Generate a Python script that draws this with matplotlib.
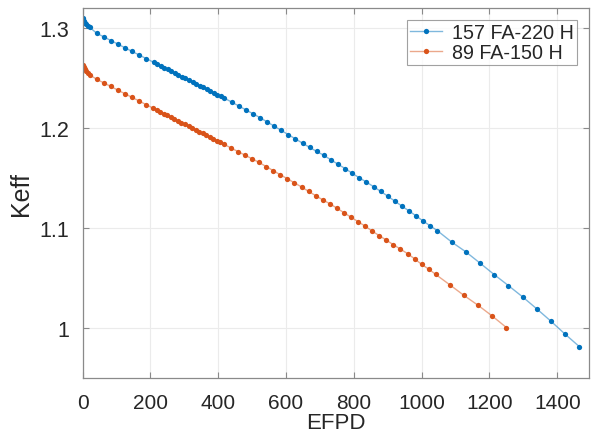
import matplotlib
matplotlib.use("Agg")
import matplotlib.pyplot as plt

plt.rcParams['font.family'] = ['Liberation Sans', 'DejaVu Sans']

# ---- data ----
series_labels = ["157 FA-220 H", "89 FA-150 H"]

efpd_157 = [0, 3, 6, 10, 15, 20.9, 41.9, 62.8, 83.7, 104.7, 125.6, 146.5, 167.4, 188.4, 209.3,
            219.8, 230.2, 240.7, 251.2, 261.6, 272.1, 282.6, 293.0, 303.5, 314.0, 324.4, 334.9,
            345.3, 355.8, 366.3, 376.7, 387.2, 397.7, 408.1, 418.6,
            439.5, 460.5, 481.4, 502.3, 523.3, 544.2, 565.1, 586.0, 607.0, 627.9, 648.8, 669.8,
            690.7, 711.6, 732.6, 753.5, 774.4, 795.3, 816.3, 837.2, 858.1, 879.1, 900.0, 920.9,
            941.9, 962.8, 983.7, 1004.7, 1025.6, 1046.5,
            1088.4, 1130.2, 1172.1, 1214.0, 1255.8, 1297.7, 1339.5, 1381.4, 1423.3, 1465.1]
keff_157 = [1.310, 1.307, 1.305, 1.304, 1.302,
            1.301, 1.295, 1.2914, 1.2877, 1.2841, 1.2804, 1.2768, 1.2732, 1.2696, 1.2660,
            1.2642, 1.2624, 1.2606, 1.2588, 1.2570, 1.2552, 1.2534, 1.2516, 1.2498, 1.2480,
            1.2462, 1.2444, 1.2426, 1.2408, 1.2390, 1.2372, 1.2354, 1.2336, 1.2318, 1.2300,
            1.2262, 1.2223, 1.2184, 1.2145, 1.2106, 1.2063, 1.2021, 1.1978, 1.1935, 1.1893,
            1.1850, 1.1808,
            1.1767, 1.1729, 1.1683, 1.1639, 1.1596, 1.1549, 1.1503, 1.1461, 1.1415, 1.1368,
            1.1320, 1.1270, 1.1220, 1.1172, 1.1122, 1.1070, 1.1022, 1.0974,
            1.0861, 1.0763, 1.0650, 1.0535, 1.0425, 1.0312, 1.0192, 1.0068, 0.9938, 0.9814]

efpd_89 = [0, 3, 6, 10, 15, 20.8, 41.7, 62.5, 83.3, 104.2, 125.0, 145.8, 166.7, 187.5, 208.3,
           218.8, 229.2, 239.6, 250.0, 260.4, 270.8, 281.3, 291.7, 302.1, 312.5, 322.9, 333.3,
           343.8, 354.2, 364.6, 375.0, 385.4, 395.8, 406.3, 416.7,
           437.5, 458.3, 479.2, 500.0, 520.8, 541.7, 562.5, 583.3, 604.2, 625.0,
           645.8, 666.7, 687.5, 708.3, 729.2, 750.0, 770.8, 791.7, 812.5, 833.3, 854.2, 875.0,
           895.8, 916.7, 937.5, 958.3, 979.2, 1000.0, 1020.8, 1041.7,
           1083.3, 1125.0, 1166.7, 1208.3, 1250.0]
keff_89 = [1.2636, 1.2610, 1.2590, 1.2570, 1.2552,
           1.2535, 1.2490, 1.2454, 1.2418, 1.2381, 1.2345, 1.2309, 1.2273, 1.2236, 1.2200,
           1.2182, 1.2164, 1.2146, 1.2128, 1.2110, 1.2092, 1.2074, 1.2056, 1.2038, 1.2020,
           1.2002, 1.1984, 1.1966, 1.1948, 1.1930, 1.1912, 1.1894, 1.1876, 1.1858, 1.1840,
           1.1803, 1.1766, 1.1730, 1.1694, 1.1657, 1.1616, 1.1575, 1.1534, 1.1494, 1.1453,
           1.1412, 1.1368, 1.1325, 1.1283, 1.1244, 1.1200, 1.1155, 1.1109, 1.1065, 1.1020,
           1.0970, 1.0925, 1.0880, 1.0834, 1.0790, 1.0745, 1.0693, 1.0637, 1.0590, 1.0536,
           1.0432, 1.0326, 1.0227, 1.0120, 1.0005]

x_ticks = [0, 200, 400, 600, 800, 1000, 1200, 1400]
y_ticks = [1.0, 1.1, 1.2, 1.3]
y_ticklabels = ["1", "1.1", "1.2", "1.3"]

# ---- style ----
blue = (0.0, 0.447, 0.741)
orange = (0.85, 0.325, 0.098)
txt = '#262626'

fig = plt.figure(figsize=(5.95, 4.35), dpi=100)
ax = fig.add_axes([0.1387, 0.1287, 0.8504, 0.8499])

for xs, ys, c, lab in [(efpd_157, keff_157, blue, series_labels[0]),
                       (efpd_89, keff_89, orange, series_labels[1])]:
    ax.plot(xs, ys, color=c + (0.5,), linewidth=1.0, marker='o', markersize=3.8,
            markerfacecolor=c, markeredgecolor=c, markeredgewidth=0, label=lab)

ax.set_xlim(0, 1492)
ax.set_ylim(0.95, 1.32)
ax.set_xticks(x_ticks)
ax.set_xticklabels([str(v) for v in x_ticks])
ax.set_yticks(y_ticks)
ax.set_yticklabels(y_ticklabels)

ax.grid(True, color='#ebebeb', linewidth=0.8)
ax.set_axisbelow(True)
for s in ax.spines.values():
    s.set_color('#8a8a8a')
    s.set_linewidth(0.9)
ax.tick_params(direction='in', length=4, width=0.8, color='#8a8a8a',
               top=True, right=True, labelsize=15.5, labelcolor=txt)
ax.tick_params(axis='x', labelsize=15, pad=11)
ax.tick_params(axis='y', pad=9.5)

ax.set_xlabel('EFPD', fontsize=16, color=txt, labelpad=0)
ax.set_ylabel('Keff', fontsize=18, color=txt, labelpad=5)

leg = ax.legend(loc='upper right', fontsize=14.2, frameon=True, fancybox=False,
                edgecolor='#8a8a8a', handlelength=1.6, handletextpad=0.5,
                borderpad=0.15, labelspacing=0.05, borderaxespad=0.6)
leg.get_frame().set_linewidth(0.8)
for t in leg.get_texts():
    t.set_color(txt)

fig.savefig('out.png', dpi=100)
